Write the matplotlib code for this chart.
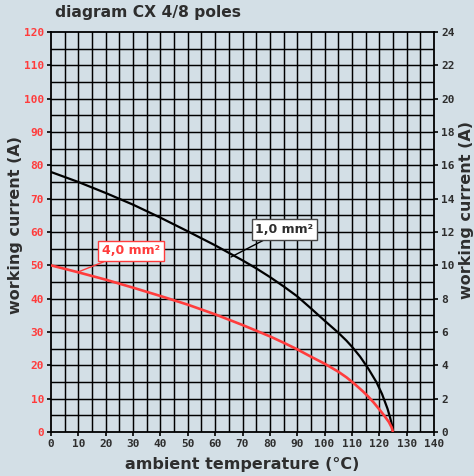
import matplotlib
matplotlib.use("Agg")
import matplotlib.pyplot as plt
import numpy as np

# Data
temp_black = [0, 10, 20, 30, 40, 50, 60, 66, 70, 75, 80, 85, 90, 95, 100, 105, 108, 110, 113, 116, 119, 121, 123, 124, 124.6, 125]
curr_black = [78, 75, 71.7, 68.2, 64.3, 60.2, 56, 53.3, 51.5, 49.1, 46.5, 43.7, 40.7, 37.1, 33.4, 29.8, 27.4, 25.6, 22.6, 19.0, 14.9, 11.4, 7.0, 4.2, 2.2, 0]

temp_red = [0, 10, 20, 30, 40, 50, 60, 70, 80, 85, 90, 95, 100, 105, 108, 111, 114, 116, 118, 120, 122, 123.5, 124.5, 125]
curr_red = [50, 47.9, 45.7, 43.3, 40.8, 38.2, 35.3, 32.1, 28.7, 26.8, 24.8, 22.6, 20.5, 18.1, 16.4, 14.4, 12.2, 10.6, 8.8, 6.8, 4.7, 3.0, 1.4, 0]

x_ticks = list(range(0, 141, 10))
y_ticks_left = list(range(0, 121, 10))
y_ticks_right = list(range(0, 25, 2))

label_black = "1,0 mm²"
label_red = "4,0 mm²"
title = "diagram CX 4/8 poles"
xlabel = "ambient temperature (°C)"
ylabel = "working current (A)"

BG = "#d3dfe6"
RED = "#ff3c3c"
DARK = "#2e2e2e"

W, H = 474, 476
fig = plt.figure(figsize=(W / 100, H / 100), dpi=100, facecolor=BG)
ax = fig.add_axes([51 / W, 1 - 432 / H, (434 - 51) / W, (432 - 32) / H])
ax.set_facecolor(BG)
ax.set_xlim(0, 140)
ax.set_ylim(0, 120)

# grid every 5 units
for gx in np.arange(5, 140, 5):
    ax.axvline(gx, color="black", lw=1.05, zorder=1)
for gy in np.arange(5, 120, 5):
    ax.axhline(gy, color="black", lw=1.05, zorder=1)

ax.plot(temp_black, curr_black, color="black", lw=1.6, zorder=3,
        solid_capstyle="butt", solid_joinstyle="round")
ax.plot(temp_red, curr_red, color=RED, lw=1.9, zorder=3,
        solid_capstyle="butt", solid_joinstyle="round")

mono = dict(family="DejaVu Sans Mono", weight="bold", size=8)

ax.set_xticks(x_ticks)
ax.set_xticklabels([str(v) for v in x_ticks], fontdict=mono)
ax.set_yticks(y_ticks_left)
ax.set_yticklabels([str(v) for v in y_ticks_left], fontdict=mono)
ax.tick_params(axis="both", direction="out", length=3, width=1.2, pad=2, colors="black")
for lab in ax.get_yticklabels():
    lab.set_color(RED)
for lab in ax.get_xticklabels():
    lab.set_color(DARK)
for s in ax.spines.values():
    s.set_linewidth(1.3)
    s.set_color("black")

ax2 = ax.twinx()
ax2.set_ylim(0, 24)
ax2.set_yticks(y_ticks_right)
ax2.set_yticklabels([str(v) for v in y_ticks_right], fontdict=mono, color=DARK)
ax2.tick_params(axis="y", direction="out", length=3, width=1.2, pad=2)
for s in ax2.spines.values():
    s.set_visible(False)

# annotations
ax.annotate(label_red, xy=(9.9, 48.0), xytext=(29.2, 54.3), ha="center", va="center",
            fontsize=9, fontweight="bold", color=RED, family="DejaVu Sans",
            bbox=dict(boxstyle="square,pad=0.3", fc="white", ec=RED, lw=1.0),
            arrowprops=dict(arrowstyle="-", color=RED, lw=1.0, shrinkA=0, shrinkB=0),
            zorder=5)
ax.annotate(label_black, xy=(65.8, 52.5), xytext=(85.3, 60.75), ha="center", va="center",
            fontsize=9, fontweight="bold", color=DARK, family="DejaVu Sans",
            bbox=dict(boxstyle="square,pad=0.3", fc="white", ec="#444444", lw=1.0),
            arrowprops=dict(arrowstyle="-", color="black", lw=1.0, shrinkA=0, shrinkB=0),
            zorder=5)

fig.text(55 / W, 1 - 13 / H, title, ha="left", va="center", fontsize=11.2,
         fontweight="bold", color=DARK)
fig.text(242 / W, 1 - 465 / H, xlabel, ha="center", va="center", fontsize=11.5,
         fontweight="bold", color=DARK)
fig.text(16 / W, 1 - 225 / H, ylabel, ha="center", va="center", rotation=90,
         fontsize=11.5, fontweight="bold", color=DARK)
fig.text(467 / W, 1 - 210 / H, ylabel, ha="center", va="center", rotation=90,
         fontsize=11.5, fontweight="bold", color=DARK)

fig.savefig("out.png", dpi=100, facecolor=BG)
